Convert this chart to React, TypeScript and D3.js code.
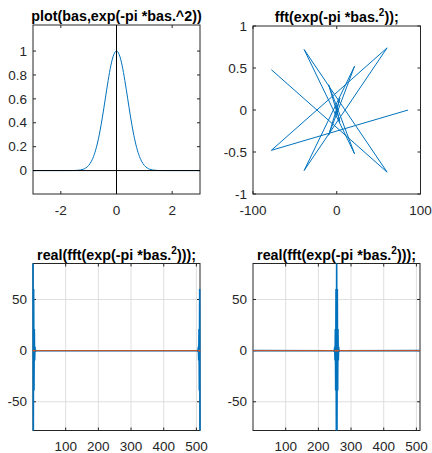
import React from 'react';
import * as d3 from 'd3';

// samples of exp(-pi*bas.^2)
const gaussX = [-3, -2, -1.6, -1.5, -1.4, -1.3, -1.2, -1.1, -1, -0.9, -0.8, -0.7, -0.6, -0.5, -0.4, -0.3, -0.2, -0.1,
  0, 0.1, 0.2, 0.3, 0.4, 0.5, 0.6, 0.7, 0.8, 0.9, 1, 1.1, 1.2, 1.3, 1.4, 1.5, 1.6, 2, 3];
const gaussY = [0, 0, 0.0003, 0.0009, 0.0021, 0.0049, 0.0108, 0.0223, 0.0432, 0.0785, 0.1339, 0.2145, 0.3227, 0.4559, 0.6049, 0.7537, 0.8819, 0.9691,
  1, 0.9691, 0.8819, 0.7537, 0.6049, 0.4559, 0.3227, 0.2145, 0.1339, 0.0785, 0.0432, 0.0223, 0.0108, 0.0049, 0.0021, 0.0009, 0.0003, 0, 0];

// fft bins (0-based) that are not ~0; everything between is flat at 0
const fftK = [0, 1, 2, 3, 4, 5, 6, 7, 8, 9, 503, 504, 505, 506, 507, 508, 509, 510, 511];
const fftRe = [85.17, -78.08, 60.16, -38.94, 21.19, -9.69, 3.73, -1.2, 0.33, -0.07, -0.07, 0.33, -1.2, 3.73, -9.69, 21.19, -38.94, 60.16, -78.08];
const fftIm = [0, -0.48, 0.74, -0.72, 0.52, -0.3, 0.14, -0.05, 0.02, 0, 0, -0.02, 0.05, -0.14, 0.3, -0.52, 0.72, -0.74, 0.48];

const p1XTicks = [-2, 0, 2];
const p1YTicks = [0, 0.2, 0.4, 0.6, 0.8, 1];
const p2XTicks = [-100, 0, 100];
const p2YTicks = [-1, -0.5, 0, 0.5, 1];
const p34XTicks = [100, 200, 300, 400, 500];
const p34YTicks = [-50, 0, 50];

const FONT = '"Liberation Sans", Arial, Helvetica, sans-serif';
const AX = '#262626';
const BLUE = '#0072BD';
const ORANGE = '#D95319';

type Pt = [number, number];

const Panel = ({ x0, x1, y0, y1, xDomain, yDomain, xTicks, yTicks, grid, title, render }: any) => {
  const xs = d3.scaleLinear().domain(xDomain).range([x0, x1]);
  const ys = d3.scaleLinear().domain(yDomain).range([y1, y0]);
  const tl = 3;
  return (
    <g>
      {grid && xTicks.map((t: number) => (
        <line key={'gx' + t} x1={xs(t)} x2={xs(t)} y1={y0} y2={y1} stroke="#dfdfdf" strokeWidth={1} />
      ))}
      {grid && yTicks.map((t: number) => (
        <line key={'gy' + t} x1={x0} x2={x1} y1={ys(t)} y2={ys(t)} stroke="#dfdfdf" strokeWidth={1} />
      ))}
      <rect x={x0} y={y0} width={x1 - x0} height={y1 - y0} fill="none" stroke={AX} strokeWidth={1} />
      {xTicks.map((t: number) => (
        <g key={'xt' + t}>
          <line x1={xs(t)} x2={xs(t)} y1={y1} y2={y1 - tl} stroke={AX} />
          <line x1={xs(t)} x2={xs(t)} y1={y0} y2={y0 + tl} stroke={AX} />
          <text x={xs(t)} y={y1 + 20.8} textAnchor="middle" fontSize={13.5} fill={AX} fontFamily={FONT}>{String(t)}</text>
        </g>
      ))}
      {yTicks.map((t: number) => (
        <g key={'yt' + t}>
          <line x1={x0} x2={x0 + tl} y1={ys(t)} y2={ys(t)} stroke={AX} />
          <line x1={x1} x2={x1 - tl} y1={ys(t)} y2={ys(t)} stroke={AX} />
          <text x={x0 - 6} y={ys(t) + 4.7} textAnchor="end" fontSize={13.5} fill={AX} fontFamily={FONT}>{String(t)}</text>
        </g>
      ))}
      {render(xs, ys)}
      <text x={(x0 + x1) / 2} y={y0 - 4} textAnchor="middle" fontSize={14.3} fontWeight="bold" fill="#000" fontFamily={FONT}>{title}</text>
    </g>
  );
};

const Sup = ({ pre, post }: { pre: string; post: string }) => (
  <>
    {pre}
    <tspan dy={-6} fontSize={10}>2</tspan>
    <tspan dy={6}>{post}</tspan>
  </>
);

export default function App() {
  const gauss: Pt[] = gaussX.map((x, i) => [x, gaussY[i]]);
  const complexPts: Pt[] = fftRe.map((r, i) => [r, fftIm[i]]);
  const reByK: Pt[] = fftK.map((k, i) => [k, fftRe[i]]);
  const imByK: Pt[] = fftK.map((k, i) => [k, fftIm[i]]);
  // fftshift: bin k moves to position (k + 256) mod 512
  const shiftRe: Pt[] = [[0, 0] as Pt, ...fftK.map((k, i) => [(k + 256) % 512, fftRe[i]] as Pt), [511, 0] as Pt]
    .sort((a, b) => a[0] - b[0]);
  const shiftIm: Pt[] = [[0, 0] as Pt, ...fftK.map((k, i) => [(k + 256) % 512, fftIm[i]] as Pt), [511, 0] as Pt]
    .sort((a, b) => a[0] - b[0]);

  const lineOf = (xs: any, ys: any, curve?: any) => {
    const l = d3.line<Pt>().x(d => xs(d[0])).y(d => ys(d[1]));
    if (curve) l.curve(curve);
    return l;
  };

  return (
    <svg width={432} height={453} style={{ position: 'absolute', left: 0, top: 0, background: '#fff' }}>
      <Panel x0={33} x1={200} y0={25} y1={194} xDomain={[-3, 3]} yDomain={[-0.196, 1.218]}
        xTicks={p1XTicks} yTicks={p1YTicks} grid={false}
        title="plot(bas,exp(-pi *bas.^2))"
        render={(xs: any, ys: any) => (
          <g>
            <path d={lineOf(xs, ys, d3.curveMonotoneX)(gauss) || ''} fill="none" stroke={BLUE} strokeWidth={1} />
            <line x1={xs(-3)} x2={xs(3)} y1={ys(0)} y2={ys(0)} stroke="#000" strokeWidth={1} />
            <line x1={xs(0)} x2={xs(0)} y1={ys(1.218)} y2={ys(-0.196)} stroke="#000" strokeWidth={1} />
          </g>
        )} />
      <Panel x0={253} x1={420.5} y0={26} y1={194} xDomain={[-100, 100]} yDomain={[-1, 1]}
        xTicks={p2XTicks} yTicks={p2YTicks} grid={false}
        title={<Sup pre="fft(exp(-pi *bas." post="));" />}
        render={(xs: any, ys: any) => (
          <path d={lineOf(xs, ys)(complexPts) || ''} fill="none" stroke={BLUE} strokeWidth={1} />
        )} />
      <Panel x0={33} x1={200} y0={263.5} y1={430.5} xDomain={[0, 511]} yDomain={[-78.08, 85.17]}
        xTicks={p34XTicks} yTicks={p34YTicks} grid={true}
        title={<Sup pre="real(fft(exp(-pi *bas." post=")));" />}
        render={(xs: any, ys: any) => (
          <g>
            <path d={lineOf(xs, ys)(reByK) || ''} fill="none" stroke={BLUE} strokeWidth={1.6} />
            <path d={lineOf(xs, ys)(imByK) || ''} fill="none" stroke={ORANGE} strokeWidth={1} />
          </g>
        )} />
      <Panel x0={253} x1={420} y0={263.5} y1={430.5} xDomain={[0, 511]} yDomain={[-78.08, 85.17]}
        xTicks={p34XTicks} yTicks={p34YTicks} grid={true}
        title={<Sup pre="real(fft(exp(-pi *bas." post=")));" />}
        render={(xs: any, ys: any) => (
          <g>
            <path d={lineOf(xs, ys)(shiftRe) || ''} fill="none" stroke={BLUE} strokeWidth={1.6} />
            <path d={lineOf(xs, ys)(shiftIm) || ''} fill="none" stroke={ORANGE} strokeWidth={1} />
          </g>
        )} />
    </svg>
  );
}
